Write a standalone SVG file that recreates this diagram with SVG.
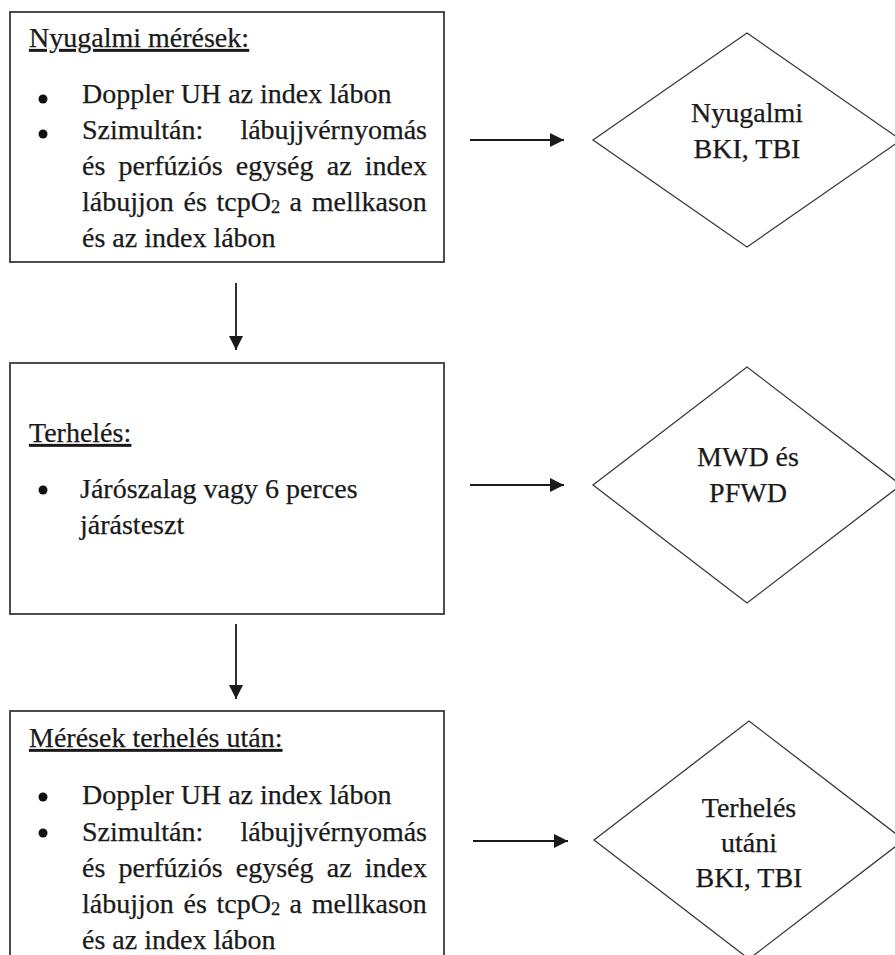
<svg xmlns="http://www.w3.org/2000/svg" width="895" height="955" viewBox="0 0 895 955">
<style>
  .box { fill: #ffffff; stroke: #3a3a3a; stroke-width: 1.8; }
  .dia { fill: #ffffff; stroke: #3a3a3a; stroke-width: 1.3; }
  .t { font-family: "Liberation Serif", "Times New Roman", serif; font-size: 28px; fill: #1a1a1a; stroke: #1a1a1a; stroke-width: 0.25; }
  .bul { fill: #111111; }
  .c { text-anchor: middle; }
  .u { text-decoration: underline; }
  .sub { font-size: 18.5px; }
  .conn { stroke: #1a1a1a; stroke-width: 1.8; fill: none; marker-end: url(#ah); }
</style>
<defs>
  <marker id="ah" markerUnits="userSpaceOnUse" markerWidth="15" markerHeight="15" refX="14" refY="7" orient="auto">
    <path d="M0,0 L14,7 L0,14 z" fill="#1a1a1a"/>
  </marker>
</defs>
<rect width="895" height="955" fill="#ffffff"/>

<g id="box-nyugalmi">
  <rect class="box" x="10" y="12" width="434" height="250"/>
  <text class="t u" x="29" y="47">Nyugalmi mérések:</text>
  <circle class="bul" cx="43" cy="99" r="4.5"/>
  <text class="t" x="82" y="103">Doppler UH az index lábon</text>
  <circle class="bul" cx="43" cy="134" r="4.5"/>
  <text class="t" y="139"><tspan x="82">Szimultán:</tspan><tspan x="240.4">lábujjvérnyomás</tspan></text>
  <text class="t" y="175"><tspan x="82">és</tspan><tspan x="118.5">perfúziós</tspan><tspan x="235.8">egység</tspan><tspan x="326.8">az</tspan><tspan x="364.8">index</tspan></text>
  <text class="t" y="211"><tspan x="82">lábujjon</tspan><tspan x="183.5">és</tspan><tspan x="216.5">tcpO</tspan><tspan class="sub" dy="2">2</tspan><tspan x="289.6" dy="-2">a</tspan><tspan x="311.7">mellkason</tspan></text>
  <text class="t" x="82" y="247">és az index lábon</text>
</g>

<g id="dia-nyugalmi">
  <polygon class="dia" points="593,140 747,33 901,140 747,247"/>
  <text class="t c" x="747" y="122">Nyugalmi</text>
  <text class="t c" x="747" y="158">BKI, TBI</text>
</g>

<g id="box-terheles">
  <rect class="box" x="10" y="363" width="434" height="251"/>
  <text class="t u" x="29" y="442">Terhelés:</text>
  <circle class="bul" cx="43" cy="490" r="4.5"/>
  <text class="t" x="80" y="498">Járószalag vagy 6 perces</text>
  <text class="t" x="80" y="534">járásteszt</text>
</g>

<g id="dia-mwd">
  <polygon class="dia" points="593,485 747,367 901,485 747,603"/>
  <text class="t c" x="748" y="466">MWD és</text>
  <text class="t c" x="748" y="502">PFWD</text>
</g>

<g id="box-meresek-utan">
  <rect class="box" x="10" y="711" width="434" height="270"/>
  <text class="t u" x="29" y="747">Mérések terhelés után:</text>
  <circle class="bul" cx="43" cy="797" r="4.5"/>
  <text class="t" x="82" y="804">Doppler UH az index lábon</text>
  <circle class="bul" cx="43" cy="833" r="4.5"/>
  <text class="t" y="841"><tspan x="82">Szimultán:</tspan><tspan x="240.4">lábujjvérnyomás</tspan></text>
  <text class="t" y="877"><tspan x="82">és</tspan><tspan x="118.5">perfúziós</tspan><tspan x="235.8">egység</tspan><tspan x="326.8">az</tspan><tspan x="364.8">index</tspan></text>
  <text class="t" y="913"><tspan x="82">lábujjon</tspan><tspan x="183.5">és</tspan><tspan x="216.5">tcpO</tspan><tspan class="sub" dy="2">2</tspan><tspan x="289.6" dy="-2">a</tspan><tspan x="311.7">mellkason</tspan></text>
  <text class="t" x="82" y="949">és az index lábon</text>
</g>

<g id="dia-terheles-utani">
  <polygon class="dia" points="594,840 749,721 904,840 749,959"/>
  <text class="t c" x="749" y="817">Terhelés</text>
  <text class="t c" x="749" y="852">utáni</text>
  <text class="t c" x="749" y="887">BKI, TBI</text>
</g>

<g id="connectors">
  <line class="conn" x1="470" y1="140" x2="564" y2="140"/>
  <line class="conn" x1="470" y1="485" x2="564" y2="485"/>
  <line class="conn" x1="473" y1="841" x2="568" y2="841"/>
  <line class="conn" x1="236" y1="283" x2="236" y2="350"/>
  <line class="conn" x1="236" y1="624" x2="236" y2="699"/>
</g>
</svg>
